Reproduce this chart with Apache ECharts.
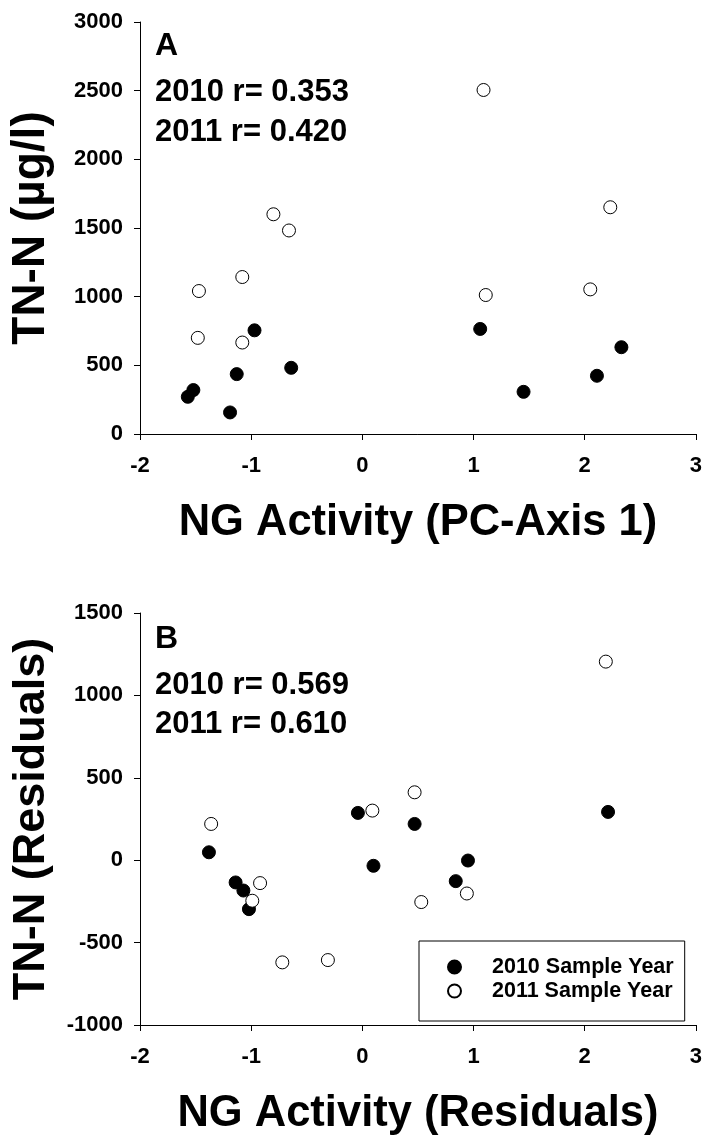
<!DOCTYPE html>
<html>
<head>
<meta charset="utf-8">
<script src="https://cdn.jsdelivr.net/npm/echarts@6/dist/echarts.min.js"></script>
<style>
html,body{margin:0;padding:0;background:#fff;}
#c{width:705px;height:1139px;}
</style>
</head>
<body>
<div id="c"></div>
<script>
// ---- data ----
var xTicksA = [-2, -1, 0, 1, 2, 3];
var yTicksA = [0, 500, 1000, 1500, 2000, 2500, 3000];
var yTicksB = [-1000, -500, 0, 500, 1000, 1500];

var panelA2010 = [[-1.57,271],[-1.52,320],[-1.19,157],[-1.13,436],[-0.97,755],[-0.64,482],[1.06,765],[1.45,307],[2.11,424],[2.33,632]];
var panelA2011 = [[1.09,2505],[-0.80,1600],[-0.66,1482],[-1.08,1143],[-1.47,1041],[-1.48,700],[-1.08,666],[1.11,1012],[2.23,1651],[2.05,1053]];
var panelB2010 = [[-1.38,48],[-1.14,-135],[-1.07,-184],[-1.02,-297],[-0.04,287],[0.10,-34],[0.47,220],[0.84,-127],[0.95,-2],[2.21,293]];
var panelB2011 = [[-1.36,220],[-0.92,-139],[-0.99,-246],[-0.72,-620],[-0.31,-606],[0.09,301],[0.47,412],[0.53,-254],[0.94,-202],[2.19,1205]];

var seriesNames = ['2010 Sample Year', '2011 Sample Year'];
var panelLabels = ['A', 'B'];
var statsA = ['2010 r= 0.353', '2011 r= 0.420'];
var statsB = ['2010 r= 0.569', '2011 r= 0.610'];
var xTitles = ['NG Activity (PC-Axis 1)', 'NG Activity (Residuals)'];
var yTitles = ['TN-N (\u00b5g/l)', 'TN-N (Residuals)'];

// ---- chart ----
var FF = '"Liberation Sans", Arial, sans-serif';
var chart = echarts.init(document.getElementById('c'), null, {renderer:'canvas'});

function plain(v) { return String(v); }

function xAxisDef(gi, title) {
  return {
    type:'value', gridIndex:gi, min:xTicksA[0], max:xTicksA[xTicksA.length-1], interval:1,
    axisLine:{show:true, onZero:false, lineStyle:{color:'#000', width:1}},
    axisTick:{show:true, inside:false, length:6, lineStyle:{color:'#000'}},
    axisLabel:{color:'#000', fontFamily:FF, fontWeight:'bold', fontSize:22, margin:21, formatter:plain},
    splitLine:{show:false},
    name:title, nameLocation:'middle', nameGap:67,
    nameTextStyle:{color:'#000', fontFamily:FF, fontWeight:'bold', fontSize:43.5}
  };
}
function yAxisDef(gi, ticks, title, tsize) {
  return {
    type:'value', gridIndex:gi, min:ticks[0], max:ticks[ticks.length-1], interval:500,
    axisLine:{show:true, onZero:false, lineStyle:{color:'#000', width:1}},
    axisTick:{show:true, inside:false, length:6, lineStyle:{color:'#000'}},
    axisLabel:{color:'#000', fontFamily:FF, fontWeight:'bold', fontSize:22, margin:17, formatter:plain},
    splitLine:{show:false},
    name:title, nameLocation:'middle', nameGap:86, nameRotate:90,
    nameTextStyle:{color:'#000', fontFamily:FF, fontWeight:'bold', fontSize:tsize}
  };
}
var filled = {color:'#000', borderColor:'#000', borderWidth:1, opacity:1};
var open = {color:'#fff', borderColor:'#000', borderWidth:1, opacity:1};

function txt(x, y, s, size) {
  return {type:'text', x:x, y:y, z:100,
    style:{text:s, fill:'#000', font:'bold ' + size + 'px ' + FF, align:'left', verticalAlign:'middle'}};
}

var option = {
  animation:false,
  backgroundColor:'#fff',
  grid:[
    {left:140, top:22, width:557, height:412},
    {left:140, top:613, width:557, height:412}
  ],
  xAxis:[xAxisDef(0, xTitles[0]), xAxisDef(1, xTitles[1])],
  yAxis:[yAxisDef(0, yTicksA, yTitles[0], 46), yAxisDef(1, yTicksB, yTitles[1], 45)],
  legend:{
    show:true, orient:'vertical', left:419, top:941,
    data:seriesNames,
    itemWidth:13, itemHeight:13, itemGap:2,
    padding:[15, 11, 19, 28],
    borderColor:'#000', borderWidth:1, backgroundColor:'#fff',
    textStyle:{color:'#000', fontFamily:FF, fontWeight:'bold', fontSize:21.5, lineHeight:22, padding:[0,0,0,26]},
    selectedMode:false
  },
  series:[
    {name:seriesNames[0], type:'scatter', xAxisIndex:0, yAxisIndex:0, data:panelA2010, symbol:'circle', symbolSize:13, itemStyle:filled, z:2},
    {name:seriesNames[1], type:'scatter', xAxisIndex:0, yAxisIndex:0, data:panelA2011, symbol:'circle', symbolSize:13, itemStyle:open, z:3},
    {name:seriesNames[0], type:'scatter', xAxisIndex:1, yAxisIndex:1, data:panelB2010, symbol:'circle', symbolSize:13, itemStyle:filled, z:2},
    {name:seriesNames[1], type:'scatter', xAxisIndex:1, yAxisIndex:1, data:panelB2011, symbol:'circle', symbolSize:13, itemStyle:open, z:3}
  ],
  graphic:[
    txt(155, 46, panelLabels[0], 32),
    txt(155, 92, statsA[0], 31),
    txt(155, 132, statsA[1], 31),
    txt(155, 639, panelLabels[1], 32),
    txt(155, 685, statsB[0], 31),
    txt(155, 724, statsB[1], 31)
  ]
};
chart.setOption(option);
</script>
</body>
</html>
